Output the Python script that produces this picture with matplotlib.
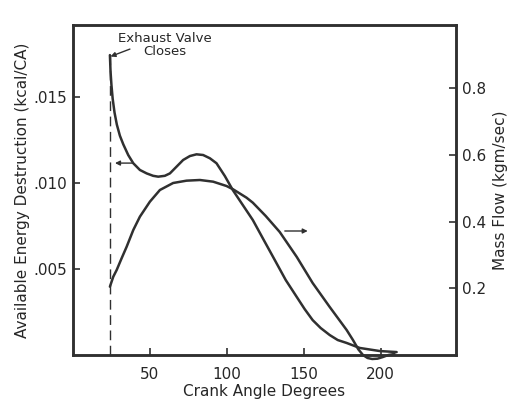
import matplotlib.pyplot as plt

plt.rcParams['font.family'] = ['DejaVu Sans']

# available energy destruction (kcal/CA) vs crank angle
angle_e = [24.0, 24.4, 25.0, 25.8, 27.0, 28.5, 30.5, 32.7, 35.9, 39.2, 43.5, 47.9,
           52.1, 55.4, 59.7, 63.0, 67.3, 71.6, 76.0, 80.3, 84.6, 89.0, 93.3, 98.7,
           103.9, 110.4, 116.9, 124.0, 131.2, 138.3, 145.5, 150.6, 155.8, 161.0,
           166.9, 172.1, 177.9, 186.4, 199.4, 210.4]
energy = [0.01744, 0.01650, 0.01570, 0.01490, 0.01410, 0.01340, 0.01275, 0.01225,
          0.01163, 0.01115, 0.01076, 0.01056, 0.01042, 0.01037, 0.01042, 0.01056,
          0.01095, 0.01134, 0.01157, 0.01167, 0.01163, 0.01144, 0.01115, 0.01041,
          0.00959, 0.00872, 0.00785, 0.00669, 0.00552, 0.00436, 0.00337, 0.00267,
          0.00203, 0.00157, 0.00116, 0.00087, 0.00070, 0.00041, 0.00023, 0.00017]

# mass flow (kgm/sec) vs crank angle
angle_m = [24.0, 26.2, 28.4, 31.6, 34.9, 39.2, 43.5, 50.0, 56.5, 65.1, 73.8, 82.5,
           91.1, 99.8, 104.1, 112.8, 116.9, 125.3, 134.4, 145.5, 155.8, 166.9, 177.9,
           182.0, 185.5, 188.5, 191.5, 194.5, 198.0, 201.5, 205.0, 209.0]
mass_flow = [0.205, 0.235, 0.255, 0.290, 0.325, 0.375, 0.415, 0.460, 0.495, 0.516,
             0.523, 0.525, 0.520, 0.507, 0.497, 0.472, 0.457, 0.417, 0.369, 0.294,
             0.216, 0.144, 0.075, 0.045, 0.017, 0.000, -0.009, -0.012, -0.011,
             -0.006, 0.000, 0.003]

evc_angle = 24.0
x_ticks = [50, 100, 150, 200]
e_ticks = [0.005, 0.010, 0.015]
e_ticklabels = ['.005', '.010', '.015']
m_ticks = [0.2, 0.4, 0.6, 0.8]

ink = '#303030'
txt = '#262626'

fig = plt.figure(figsize=(5.09, 4.04), dpi=100)
ax = fig.add_axes([0.1434, 0.1213, 0.7525, 0.8168])
ax2 = ax.twinx()

ax.plot(angle_e, energy, color=ink, lw=1.8, clip_on=False,
        solid_capstyle='round', solid_joinstyle='round')
ax2.plot(angle_m, mass_flow, color=ink, lw=1.8, clip_on=False,
         solid_capstyle='round', solid_joinstyle='round')

ax.plot([evc_angle, evc_angle], [0, energy[0]], color=ink, lw=1.0,
        dashes=(7, 4))

ax.set_xlim(0, 249)
ax.set_ylim(0, 0.01919)
ax2.set_ylim(0, 0.99)

ax.set_xticks(x_ticks)
ax.set_yticks(e_ticks)
ax.set_yticklabels(e_ticklabels)
ax2.set_yticks(m_ticks)
ax2.set_yticklabels([f'{t:.1f}' for t in m_ticks])

for a in (ax, ax2):
    a.tick_params(direction='in', length=5, width=1.2, colors=ink,
                  labelsize=11, labelcolor=txt)
    for s in a.spines.values():
        s.set_linewidth(1.8)
        s.set_color(ink)
ax.tick_params(axis='x', pad=9)
ax.tick_params(axis='y', pad=4)
ax2.tick_params(axis='y', pad=4)

ax.set_xlabel('Crank Angle Degrees', fontsize=11, color=txt, labelpad=1)
ax.set_ylabel('Available Energy Destruction (kcal/CA)', fontsize=11,
              color=txt, labelpad=3)
ax2.set_ylabel('Mass Flow (kgm/sec)', fontsize=11, color=txt, labelpad=5)

# curve identification arrows
arrow = dict(arrowstyle='-|>', color=ink, lw=1.0, mutation_scale=7,
             shrinkA=0, shrinkB=0)
ax.annotate('', xy=(27.3, 0.01116), xytext=(39.2, 0.01116), arrowprops=arrow)
ax2.annotate('', xy=(152.6, 0.372), xytext=(137.7, 0.372), arrowprops=arrow)

# valve closing note
ax.text(59.7, 0.01802, 'Exhaust Valve\nCloses', ha='center', va='center',
        fontsize=9.5, color=txt, linespacing=1.0)
ax.annotate('', xy=(evc_angle + 0.4, 0.01736), xytext=(37.0, 0.01779),
            arrowprops=arrow)

fig.savefig('out.png', dpi=100)
